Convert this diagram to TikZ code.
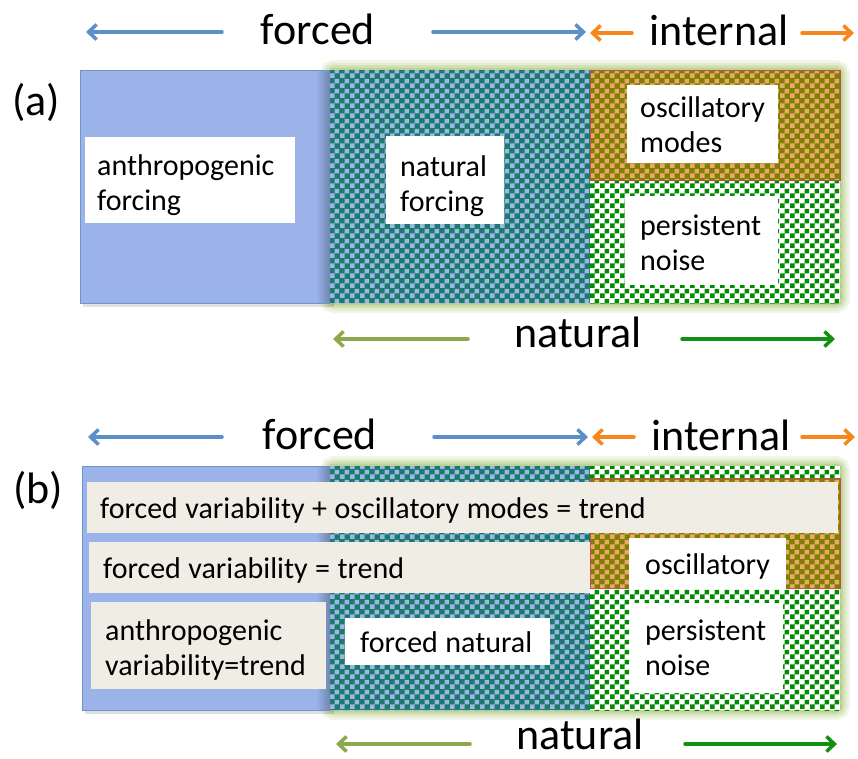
\documentclass[tikz,border=0pt]{standalone}
\usepackage{fontspec}
\setmainfont{Carlito}
\usetikzlibrary{arrows.meta,patterns}
\definecolor{bluefill}{HTML}{9BB3E8}
\definecolor{blueline}{HTML}{6A96CC}
\definecolor{blueshade}{HTML}{6F86B0}
\definecolor{tealc}{HTML}{1B7B69}
\definecolor{checkl}{HTML}{9DB5E8}
\definecolor{olivec}{HTML}{7F7F00}
\definecolor{orangec}{HTML}{EBA86E}
\definecolor{greenc}{HTML}{008C00}
\definecolor{glowc}{HTML}{9BBB59}
\definecolor{beigec}{HTML}{EFEDE4}
\definecolor{oscline}{HTML}{C0504D}
\definecolor{arrblue}{HTML}{5B8FC7}
\definecolor{arrorange}{HTML}{F7861B}
\definecolor{arrolive}{HTML}{8EA84C}
\definecolor{arrgreen}{HTML}{129012}
\pgfdeclarepatternformonly{bigcheck}{\pgfqpoint{0pt}{0pt}}{\pgfqpoint{10pt}{10pt}}{\pgfqpoint{10pt}{10pt}}{%
  \pgfpathrectangle{\pgfqpoint{0pt}{0pt}}{\pgfqpoint{5pt}{5pt}}%
  \pgfpathrectangle{\pgfqpoint{5pt}{5pt}}{\pgfqpoint{5pt}{5pt}}%
  \pgfusepath{fill}}
\begin{document}
\begin{tikzpicture}[x=1pt,y=-1pt,
  wbox/.style={fill=white, anchor=north west, align=left, inner ysep=0pt, font=\fontsize{30}{35}\selectfont, execute at begin node={\spaceskip=7.5pt\relax}},
  bbox/.style={wbox, fill=beigec},
  bigt/.style={font=\fontsize{44}{50}\selectfont, inner sep=0pt, anchor=base},
  arw/.style={line width=3.5pt, line cap=round, -{Straight Barb[length=8pt,width=15pt]}},
  glowline/.style={glowc, rounded corners=4pt}]
\useasboundingbox (0,0) rectangle (858,758);
\fill[white] (0,0) rectangle (858,758);

% ================= panel (a) =================
\foreach \w/\o in {20/0.12,15/0.16,10/0.22,5/0.35}{\draw[glowline,line width=\w pt,opacity=\o] (330,70) rectangle (840,303);}
\fill[black,opacity=0.12] (83,74) rectangle (334,307);
\fill[tealc] (330,70) rectangle (590,303);
\fill[pattern=bigcheck,pattern color=checkl] (330,70) rectangle (590,303);
\fill[white] (590,70) rectangle (840,303);
\fill[pattern=bigcheck,pattern color=greenc] (590,70) rectangle (840,303);
\fill[olivec] (590,70) rectangle (840,180);
\fill[pattern=bigcheck,pattern color=orangec] (590,70) rectangle (840,180);
\draw[oscline,line width=1pt] (590,70) rectangle (840,180);
\fill[bluefill] (80,70) rectangle (330,303);
\shade[left color=bluefill,right color=blueshade] (316,70) rectangle (330,303);
\draw[blueline,line width=1pt] (330,70) -- (80,70) -- (80,303) -- (330,303);

\node[wbox, inner xsep=12pt, text width=186pt, minimum height=86pt, text depth=31pt] (aanthro) at (85,137) {anthropogenic\\forcing};
\node[wbox, inner xsep=14pt, text width=90pt, minimum height=88pt, text depth=29pt] (anatf) at (386,136) {natural\\forcing};
\node[wbox, inner xsep=13pt, text width=125pt, minimum height=78pt] (aosc) at (627,85) {oscillatory\\modes};
\node[wbox, inner xsep=15pt, text width=123pt, minimum height=89pt, text depth=32pt] (anoise) at (625,196) {persistent\\noise};

\node[bigt] (atag) at (36,115) {(a)};
\node[bigt] (aforced) at (318,44) {forced};
\node[bigt] (aint) at (719,45) {internal};
\node[bigt] (anat) at (578,347) {natural};

\coordinate (af1s) at (222,32); \coordinate (af1e) at (86,32);
\coordinate (af2s) at (433,32); \coordinate (af2e) at (586,32);
\coordinate (ai1s) at (632,33); \coordinate (ai1e) at (590,33);
\coordinate (ai2s) at (802,33); \coordinate (ai2e) at (854,33);
\coordinate (an1s) at (468,339); \coordinate (an1e) at (333,339);
\coordinate (an2s) at (682,339); \coordinate (an2e) at (835,339);
\draw[arw,arrblue] (af1s) -- (af1e);
\draw[arw,arrblue] (af2s) -- (af2e);
\draw[arw,arrorange] (ai1s) -- (ai1e);
\draw[arw,arrorange] (ai2s) -- (ai2e);
\draw[arw,arrolive] (an1s) -- (an1e);
\draw[arw,arrgreen] (an2s) -- (an2e);

% ================= panel (b) =================
\foreach \w/\o in {20/0.12,15/0.16,10/0.22,5/0.35}{\draw[glowline,line width=\w pt,opacity=\o] (330,466) rectangle (840,710);}
\fill[black,opacity=0.12] (85,470) rectangle (334,714);
\fill[tealc] (330,466) rectangle (590,710);
\fill[pattern=bigcheck,pattern color=checkl] (330,466) rectangle (590,710);
\fill[white] (590,466) rectangle (840,710);
\fill[pattern=bigcheck,pattern color=greenc] (590,466) rectangle (840,710);
\fill[olivec] (590,478) rectangle (840,588);
\fill[pattern=bigcheck,pattern color=orangec] (590,478) rectangle (840,588);
\draw[oscline,line width=1pt] (590,478) rectangle (840,588);
\fill[bluefill] (82,466) rectangle (330,710);
\shade[left color=bluefill,right color=blueshade] (316,466) rectangle (330,710);
\draw[blueline,line width=1pt] (330,466) -- (82,466) -- (82,710) -- (330,710);

\node[bbox, inner xsep=13pt, text width=725pt, minimum height=51pt, text depth=0pt] (bfull) at (87,482) {forced variability + oscillatory modes = trend};
\node[bbox, inner xsep=14pt, text width=473pt, minimum height=51pt, text depth=0pt] (bforced) at (89,542) {forced variability = trend};
\node[bbox, inner xsep=14pt, text width=207pt, minimum height=87pt, text depth=32pt] (banthro) at (91,602) {anthropogenic\\variability=trend};
\node[wbox, inner xsep=15pt, text width=175pt, minimum height=47pt, text depth=0pt] (bnatf) at (345,618) {forced natural};
\node[wbox, inner xsep=16pt, text width=125pt, minimum height=51pt, text depth=0pt] (bosc) at (629,538) {oscillatory};
\node[wbox, inner xsep=15pt, text width=123pt, minimum height=90pt, text depth=36pt] (bnoise) at (630,603) {persistent\\noise};

\node[bigt] (btag) at (38,503) {(b)};
\node[bigt] (bforced) at (320,449) {forced};
\node[bigt] (bint) at (721,450) {internal};
\node[bigt] (bnat) at (580,749) {natural};

\coordinate (bf1s) at (222,437); \coordinate (bf1e) at (88,437);
\coordinate (bf2s) at (434,437); \coordinate (bf2e) at (588,437);
\coordinate (bi1s) at (634,437); \coordinate (bi1e) at (592,437);
\coordinate (bi2s) at (802,437); \coordinate (bi2e) at (855,437);
\coordinate (bn1s) at (470,744); \coordinate (bn1e) at (336,744);
\coordinate (bn2s) at (685,744); \coordinate (bn2e) at (837,744);
\draw[arw,arrblue] (bf1s) -- (bf1e);
\draw[arw,arrblue] (bf2s) -- (bf2e);
\draw[arw,arrorange] (bi1s) -- (bi1e);
\draw[arw,arrorange] (bi2s) -- (bi2e);
\draw[arw,arrolive] (bn1s) -- (bn1e);
\draw[arw,arrgreen] (bn2s) -- (bn2e);
\end{tikzpicture}
\end{document}
